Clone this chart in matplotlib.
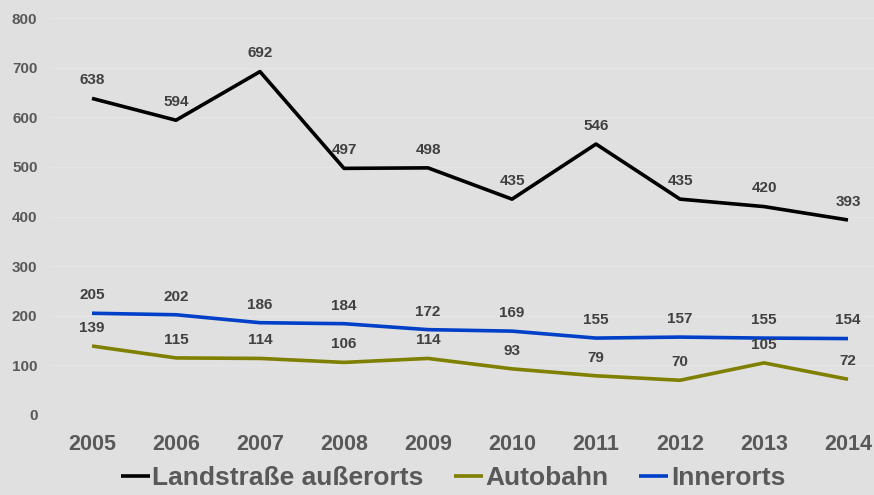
import matplotlib

matplotlib.use("Agg")
import matplotlib.pyplot as plt

years = ["2005", "2006", "2007", "2008", "2009", "2010", "2011", "2012", "2013", "2014"]
landstrasse = [638, 594, 692, 497, 498, 435, 546, 435, 420, 393]
autobahn = [139, 115, 114, 106, 114, 93, 79, 70, 105, 72]
innerorts = [205, 202, 186, 184, 172, 169, 155, 157, 155, 154]

series = [
    ("Landstraße außerorts", landstrasse, "#000000"),
    ("Autobahn", autobahn, "#7f7f00"),
    ("Innerorts", innerorts, "#0040c8"),
]

plt.rcParams["font.family"] = ["Liberation Sans", "DejaVu Sans"]
plt.rcParams["font.weight"] = "bold"
txt = "#595959"
bg = "#e0e0e0"

fig = plt.figure(figsize=(8.74, 4.95), dpi=100, facecolor=bg)
ax = fig.add_axes([50 / 874, 80 / 495, 840 / 874, 397 / 495], facecolor=bg)

x = list(range(len(years)))
for name, vals, col in series:
    ax.plot(x, vals, color=col, lw=2.6, label=name, solid_capstyle="butt")
    for xi, v in zip(x, vals):
        ax.annotate(str(v), (xi, v), xytext=(0, 8), textcoords="offset points",
                    ha="center", va="bottom", fontsize=11, color="#404040",
                    fontweight="bold")

ax.set_xlim(-0.5, len(years) - 0.5)
ax.set_ylim(0, 800)
ax.set_yticks(range(0, 801, 100))
ax.set_xticks(x)
ax.set_xticklabels(years)
ax.tick_params(axis="x", length=0, pad=14, labelsize=15.5, labelcolor=txt)
ax.tick_params(axis="y", length=0, pad=9, labelsize=11, labelcolor=txt)
for lab in ax.get_xticklabels() + ax.get_yticklabels():
    lab.set_fontweight("bold")
ax.grid(axis="y", color="#e5e5e5", lw=1)
ax.set_axisbelow(True)
for sp in ax.spines.values():
    sp.set_visible(False)

leg = fig.legend(loc="center", bbox_to_anchor=(453 / 874, 1 - 478 / 495), ncol=3,
                 frameon=False, handlelength=1.1, handletextpad=0.1,
                 columnspacing=1.15, prop={"weight": "bold", "size": 19})
for t in leg.get_texts():
    t.set_color(txt)

fig.savefig("out.png", dpi=100, facecolor=bg)
